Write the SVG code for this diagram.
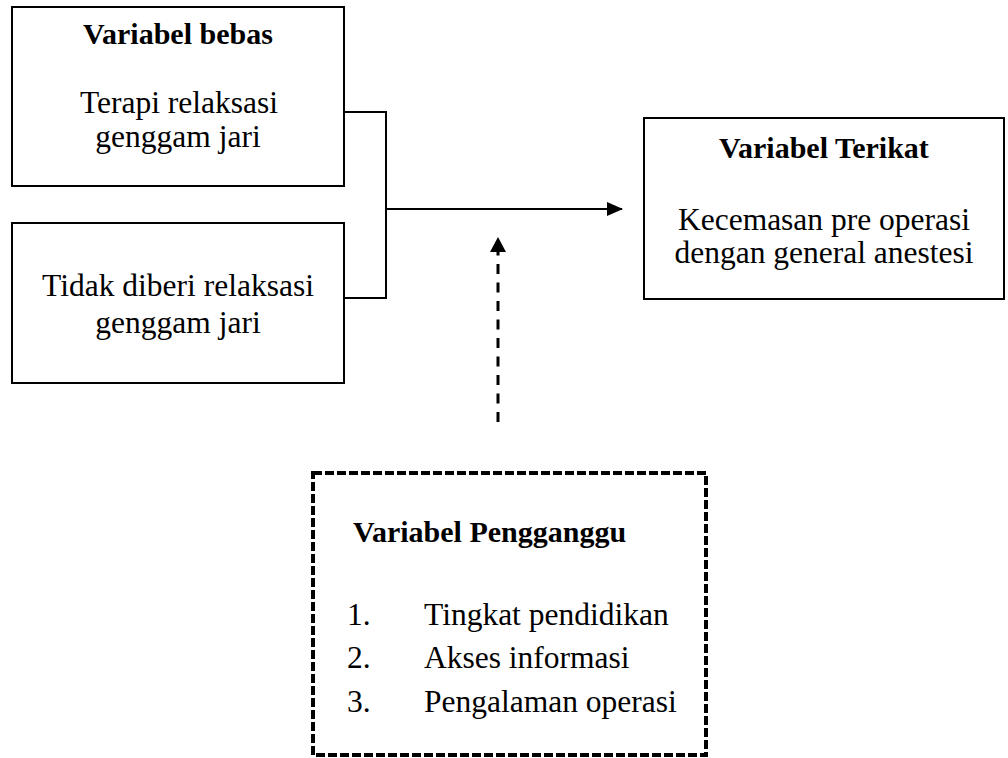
<svg xmlns="http://www.w3.org/2000/svg" width="1008" height="758" viewBox="0 0 1008 758">
<style>
.box{fill:#fff;stroke:#000;stroke-width:2}
.t{font-family:"Liberation Serif","Times New Roman",serif;font-size:31.5px;fill:#000}
.b{font-weight:bold;font-size:30px}
.c{text-anchor:middle}
.ln{fill:none;stroke:#000;stroke-width:2}
</style>
<defs>
<marker id="ah" markerWidth="16" markerHeight="14" refX="15" refY="7" orient="auto" markerUnits="userSpaceOnUse">
<path d="M0,0 L16,7 L0,14 Z" fill="#000"/>
</marker>
</defs>
<rect width="1008" height="758" fill="#fff"/>
<g id="bebas1">
<rect class="box" x="12" y="7" width="332" height="179"/>
<text class="t b c" x="178" y="44">Variabel bebas</text>
<text class="t c" x="179" y="113">Terapi relaksasi</text>
<text class="t c" x="178" y="147">genggam jari</text>
</g>
<g id="bebas2">
<rect class="box" x="12" y="223" width="332" height="160"/>
<text class="t c" x="178" y="296">Tidak diberi relaksasi</text>
<text class="t c" x="178" y="333">genggam jari</text>
</g>
<g id="terikat">
<rect class="box" x="644" y="118" width="360" height="181"/>
<text class="t b c" x="824" y="158">Variabel Terikat</text>
<text class="t c" x="824" y="230">Kecemasan pre operasi</text>
<text class="t c" x="824" y="263">dengan general anestesi</text>
</g>
<g id="pengganggu">
<rect x="313" y="473" width="393" height="282" fill="#fff" stroke="#000" stroke-width="4" stroke-dasharray="9,3"/>
<text class="t b" x="353" y="542">Variabel Pengganggu</text>
<text class="t" x="347" y="625">1.</text>
<text class="t" x="424" y="625">Tingkat pendidikan</text>
<text class="t" x="347" y="668">2.</text>
<text class="t" x="424" y="668">Akses informasi</text>
<text class="t" x="347" y="712">3.</text>
<text class="t" x="424" y="712">Pengalaman operasi</text>
</g>
<g id="connectors">
<polyline class="ln" points="344,112 386,112 386,298 344,298"/>
<line class="ln" x1="386" y1="209" x2="622" y2="209" marker-end="url(#ah)"/>
<line x1="498" y1="422" x2="498" y2="252" stroke="#000" stroke-width="3" stroke-dasharray="10,8.5"/>
<path d="M490,252 L498,237 L506,252 Z" fill="#000"/>
</g>
</svg>
